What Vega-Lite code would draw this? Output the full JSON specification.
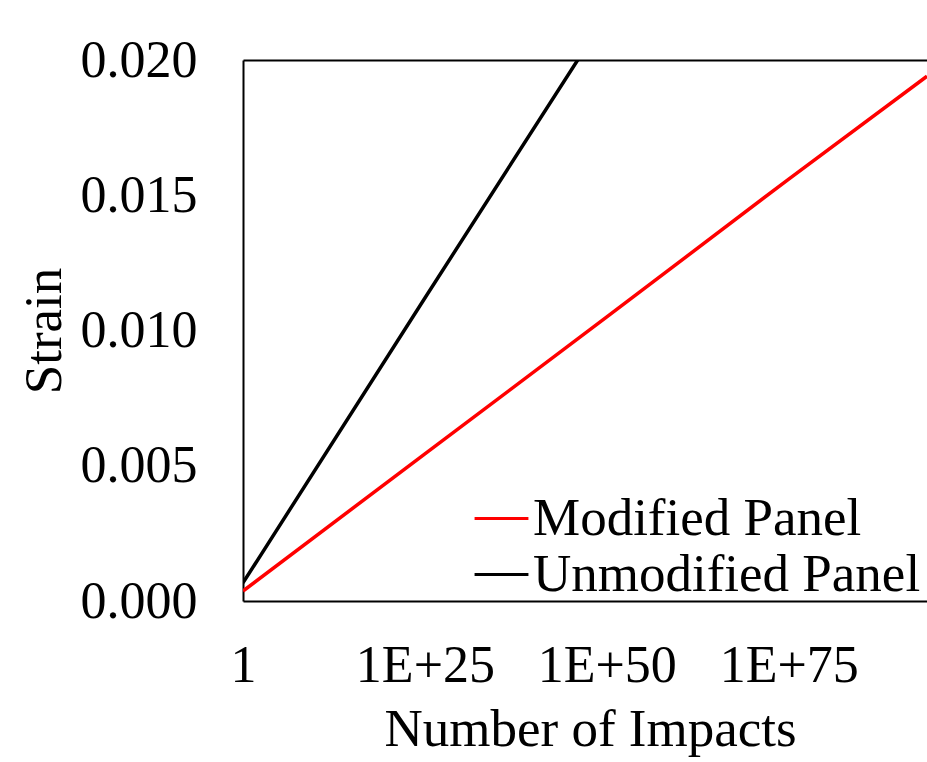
{
  "$schema": "https://vega.github.io/schema/vega-lite/v6.json",
  "width": 684,
  "height": 541,
  "autosize": {"type": "none"},
  "padding": {"left": 243, "top": 60, "right": 0, "bottom": 161},
  "background": "white",
  "config": {
    "font": "Liberation Serif",
    "view": {"stroke": null},
    "axis": {"grid": false, "domainColor": "black", "domainWidth": 2, "ticks": false, "labelColor": "black", "titleColor": "black", "labelFont": "Liberation Serif", "titleFont": "Liberation Serif", "labelFontSize": 52, "titleFontSize": 53, "titleFontWeight": "normal"},
    "legend": {"labelFont": "Liberation Serif", "labelFontSize": 53, "labelColor": "black", "labelLimit": 0}
  },
  "data": {"values": [
    {"impacts": 1, "strain": 0.00037, "panel": "Modified Panel"},
    {"impacts": 1e25, "strain": 0.00544, "panel": "Modified Panel"},
    {"impacts": 1e50, "strain": 0.0105, "panel": "Modified Panel"},
    {"impacts": 1e75, "strain": 0.0156, "panel": "Modified Panel"},
    {"impacts": 1e94, "strain": 0.0194, "panel": "Modified Panel"},
    {"impacts": 1, "strain": 0.00067, "panel": "Unmodified Panel"},
    {"impacts": 1e25, "strain": 0.0112, "panel": "Unmodified Panel"},
    {"impacts": 1e46, "strain": 0.0200, "panel": "Unmodified Panel"}
  ]},
  "layer": [
    {
      "mark": {"type": "line", "strokeWidth": 3.5, "clip": true},
      "encoding": {
        "x": {"field": "impacts", "type": "quantitative", "scale": {"type": "log", "domain": [1, 1e94], "nice": false},
          "axis": {"values": [1, 1e25, 1e50, 1e75], "labelExpr": "datum.value == 1 ? '1' : '1E+' + round(log(datum.value) / LN10)", "labelPadding": 39, "title": "Number of Impacts", "titlePadding": 12, "titleX": 347, "labelFlush": false}},
        "y": {"field": "strain", "type": "quantitative", "scale": {"domain": [0, 0.02], "nice": false},
          "axis": {"values": [0, 0.005, 0.01, 0.015, 0.02], "format": ".3f", "labelPadding": 46, "title": "Strain", "titlePadding": 9}},
        "color": {"field": "panel", "type": "nominal", "scale": {"domain": ["Modified Panel", "Unmodified Panel"], "range": ["#ff0000", "#000000"]},
          "legend": {"title": null, "orient": "none", "legendX": 230, "legendY": 430, "symbolType": "stroke", "symbolSize": 2900, "symbolStrokeWidth": 3, "labelOffset": 3, "rowPadding": 0, "padding": 0}}
      }
    },
    {
      "mark": {"type": "line", "opacity": 0},
      "encoding": {
        "x": {"field": "impacts", "type": "quantitative", "axis": {"orient": "top", "labels": false, "title": null}},
        "y": {"field": "strain", "type": "quantitative"}
      }
    }
  ],
  "resolve": {"axis": {"x": "independent"}}
}
